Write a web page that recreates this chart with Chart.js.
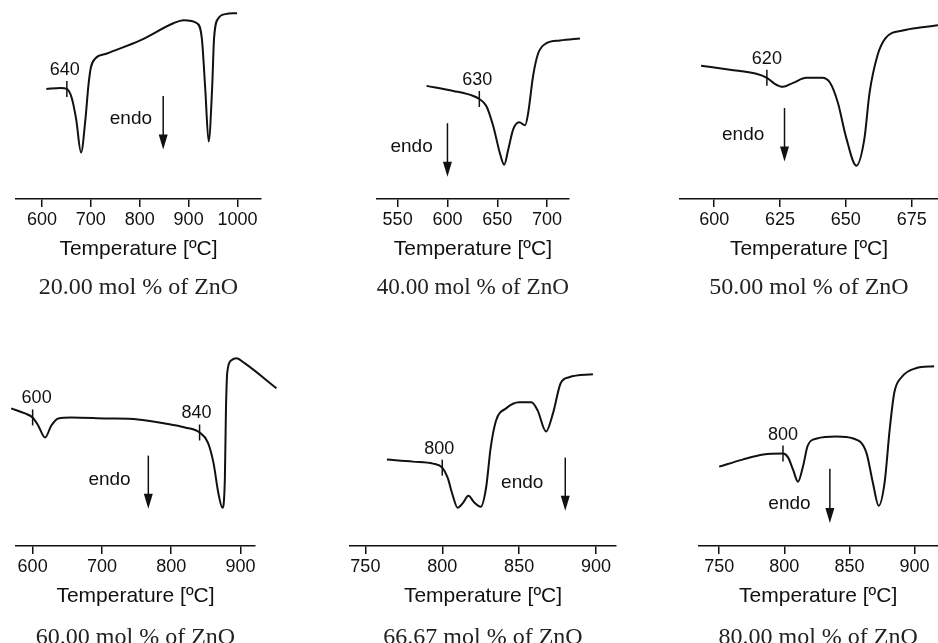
<!DOCTYPE html>
<html>
<head>
<meta charset="utf-8">
<script src="https://cdn.jsdelivr.net/npm/chart.js@4.4.1/dist/chart.umd.min.js"></script>
<style>
  html, body { margin: 0; padding: 0; background: #fff; overflow: hidden; }
  body { width: 938px; height: 643px; position: relative; }
  canvas { position: absolute; }
</style>
</head>
<body>
<canvas id="c20" width="310" height="320" style="left:0;top:0"></canvas>
<canvas id="c40" width="310" height="320" style="left:310px;top:0"></canvas>
<canvas id="c50" width="318" height="320" style="left:620px;top:0"></canvas>
<canvas id="c60" width="310" height="333" style="left:0;top:320px"></canvas>
<canvas id="c67" width="310" height="333" style="left:310px;top:320px"></canvas>
<canvas id="c80" width="318" height="333" style="left:620px;top:320px"></canvas>
<script>
// DTA curves, temperature in degC, signal in arbitrary units

const t20 = [609, 638, 651, 661, 670, 680, 689, 695, 700, 709, 733, 801, 869, 890, 917, 927, 934, 941, 948, 952, 961, 975, 999];
const s20 = [109, 110, 109, 100, 79, 46, 79, 112, 130, 139, 144, 157, 174, 177, 174, 159, 109, 57, 109, 159, 179, 183, 184];

const t40 = [579, 606, 626, 632, 639, 646, 653, 657, 661, 666, 672, 678, 681, 686, 691, 699, 713, 733, 754];
const s40 = [112, 107, 102, 99, 92, 72, 44, 34, 49, 69, 76, 73, 85, 122, 144, 154, 157, 159, 161];

const t50 = [595, 606, 616, 620, 623, 626, 630, 635, 641, 644, 647, 650, 654, 657, 659, 662, 665, 672, 679, 685];
const s50 = [132, 128, 124, 120, 114, 111, 115, 120, 120, 115, 95, 62, 33, 59, 105, 142, 159, 167, 170, 172];

const t60 = [569, 589, 600, 608, 618, 627, 637, 656, 704, 752, 791, 820, 841, 853, 861, 868, 874, 877.5, 879, 881, 887, 894, 906, 952];
const s60 = [137, 132, 128, 120, 108, 120, 127, 128, 127, 126, 122, 118, 113, 103, 83, 53, 38, 67, 133, 173, 185, 187, 182, 157];

const t67 = [764, 781, 794, 800, 803.5, 806.5, 810, 813.5, 817, 821, 825, 828.5, 831.5, 835, 841.5, 850, 858, 862, 867.5, 872, 877, 882.5, 898];
const s67 = [86, 84, 82, 78, 68, 52, 38, 43, 50, 43, 39, 58, 98, 125, 137, 143, 143, 135, 114, 132, 162, 168, 171];

const t80 = [750, 768, 784, 799, 803, 807, 810.5, 814.5, 818, 825, 840, 853, 863, 868, 872.5, 877, 881, 884.5, 890, 901, 915];
const s80 = [79, 86, 91, 92, 88, 75, 64, 80, 100, 107, 109, 107, 93, 63, 40, 63, 117, 153, 168, 177, 179];

// tick labels
const ticks20 = [600, 700, 800, 900, 1000];
const ticks40 = [550, 600, 650, 700];
const ticks50 = [600, 625, 650, 675];
const ticks60 = [600, 700, 800, 900];
const ticks67 = [750, 800, 850, 900];
const ticks80 = [750, 800, 850, 900];

const captions = [
  '20.00 mol % of ZnO',
  '40.00 mol % of ZnO',
  '50.00 mol % of ZnO',
  '60.00 mol % of ZnO',
  '66.67 mol % of ZnO',
  '80.00 mol % of ZnO',
];

const SANS = "'Liberation Sans', Arial, sans-serif";
const SERIF = "'Liberation Serif', 'Times New Roman', serif";
const INK = '#111';

// linear lookup of the curve, used to put the onset marks on it
const valueAt = (ts, ss, T) => {
  for (let i = 1; i < ts.length; i++) {
    if (T <= ts[i]) {
      const f = (T - ts[i - 1]) / (ts[i] - ts[i - 1]);
      return ss[i - 1] + f * (ss[i] - ss[i - 1]);
    }
  }
  return ss[ss.length - 1];
};

// onset marks, "endo" label and arrow
const notesPlugin = (ts, ss, notes) => ({
  id: 'dtaNotes',
  afterDatasetsDraw(chart) {
    const { ctx } = chart;
    const x = chart.scales.x;
    const y = chart.scales.y;
    ctx.save();
    ctx.strokeStyle = INK;
    ctx.fillStyle = INK;
    ctx.lineWidth = 1.5;
    ctx.textAlign = 'center';
    ctx.textBaseline = 'middle';

    notes.marks.forEach((m) => {
      const px = x.getPixelForValue(m.t);
      const py = y.getPixelForValue(valueAt(ts, ss, m.t));
      ctx.beginPath();
      ctx.moveTo(px, py - 8);
      ctx.lineTo(px, py + 8);
      ctx.stroke();
      ctx.font = '18px ' + SANS;
      ctx.fillText(m.label, px + (m.dx || 0), py - 19);
    });

    ctx.font = '19px ' + SANS;
    ctx.fillText('endo', x.getPixelForValue(notes.endo.t), y.getPixelForValue(notes.endo.v));

    const ax = x.getPixelForValue(notes.arrow.t);
    const top = y.getPixelForValue(notes.arrow.top);
    const tip = y.getPixelForValue(notes.arrow.tip);
    ctx.beginPath();
    ctx.moveTo(ax, top);
    ctx.lineTo(ax, tip - 12);
    ctx.stroke();
    ctx.beginPath();
    ctx.moveTo(ax - 4.5, tip - 15);
    ctx.lineTo(ax + 4.5, tip - 15);
    ctx.lineTo(ax, tip);
    ctx.closePath();
    ctx.fill();
    ctx.restore();
  },
});

const makePanel = (id, ts, ss, tickValues, caption, xMin, xMax, yMax, pad, capPad, notes) => {
  new Chart(document.getElementById(id), {
    type: 'line',
    data: {
      datasets: [
        {
          data: ts.map((t, i) => ({ x: t, y: ss[i] })),
          borderColor: INK,
          borderWidth: 2,
          pointRadius: 0,
          cubicInterpolationMode: 'monotone',
          clip: false,
        },
      ],
    },
    options: {
      responsive: false,
      animation: false,
      devicePixelRatio: 1,
      layout: { padding: pad },
      scales: {
        x: {
          type: 'linear',
          min: xMin,
          max: xMax,
          afterBuildTicks: (axis) => {
            axis.ticks = tickValues.map((v) => ({ value: v }));
          },
          grid: {
            display: true,
            drawOnChartArea: false,
            drawTicks: true,
            tickLength: 8,
            color: INK,
            lineWidth: 1.5,
          },
          border: { display: true, color: INK, width: 1.5 },
          ticks: {
            color: INK,
            padding: 2,
            maxRotation: 0,
            autoSkip: false,
            font: { family: SANS, size: 18 },
            callback: (v) => String(v),
          },
          title: {
            display: true,
            text: 'Temperature [ºC]',
            color: INK,
            padding: { top: 4, bottom: 0 },
            font: { family: SANS, size: 21 },
          },
        },
        y: { display: false, min: 0, max: yMax },
      },
      plugins: {
        legend: { display: false },
        tooltip: { enabled: false },
        title: {
          display: true,
          position: 'bottom',
          text: caption,
          color: '#222',
          padding: { top: capPad, bottom: 0 },
          font: { family: SERIF, size: 24, weight: 'normal' },
        },
      },
    },
    plugins: [notesPlugin(ts, ss, notes)],
  });
};

makePanel('c20', t20, s20, ticks20, captions[0], 547, 1048, 197,
  { left: 16, right: 49, top: 0, bottom: 17.4 }, 12,
  { marks: [{ t: 651, label: '640', dx: -2 }], endo: { t: 782, v: 79 }, arrow: { t: 848, top: 102, tip: 49 } });

makePanel('c40', t40, s40, ticks40, captions[1], 529, 722, 197,
  { left: 66.7, right: 51, top: 0, bottom: 17.4 }, 12,
  { marks: [{ t: 632, label: '630', dx: -2 }], endo: { t: 564, v: 52 }, arrow: { t: 600, top: 75, tip: 22 } });

makePanel('c50', t50, s50, ticks50, captions[2], 587, 685, 197,
  { left: 60, right: 0, top: 0, bottom: 17.4 }, 12,
  { marks: [{ t: 620, label: '620' }], endo: { t: 611, v: 64 }, arrow: { t: 626.7, top: 90, tip: 37 } });

makePanel('c60', t60, s60, ticks60, captions[3], 576, 921, 225,
  { left: 16, right: 55, top: 0, bottom: 0.4 }, 15,
  { marks: [{ t: 600, label: '600', dx: 4 }, { t: 841, label: '840', dx: -3 }], endo: { t: 711, v: 66 }, arrow: { t: 767, top: 90, tip: 37 } });

makePanel('c67', t67, s67, ticks67, captions[4], 740, 913, 225,
  { left: 40, right: 4, top: 0, bottom: 0.4 }, 15,
  { marks: [{ t: 800, label: '800', dx: -3 }], endo: { t: 852, v: 63 }, arrow: { t: 880, top: 88, tip: 35 } });

makePanel('c80', t80, s80, ticks80, captions[5], 734, 918, 225,
  { left: 78.3, right: 0, top: 0, bottom: 0.4 }, 15,
  { marks: [{ t: 799, label: '800' }], endo: { t: 804, v: 42 }, arrow: { t: 835, top: 77, tip: 23 } });
</script>
</body>
</html>
